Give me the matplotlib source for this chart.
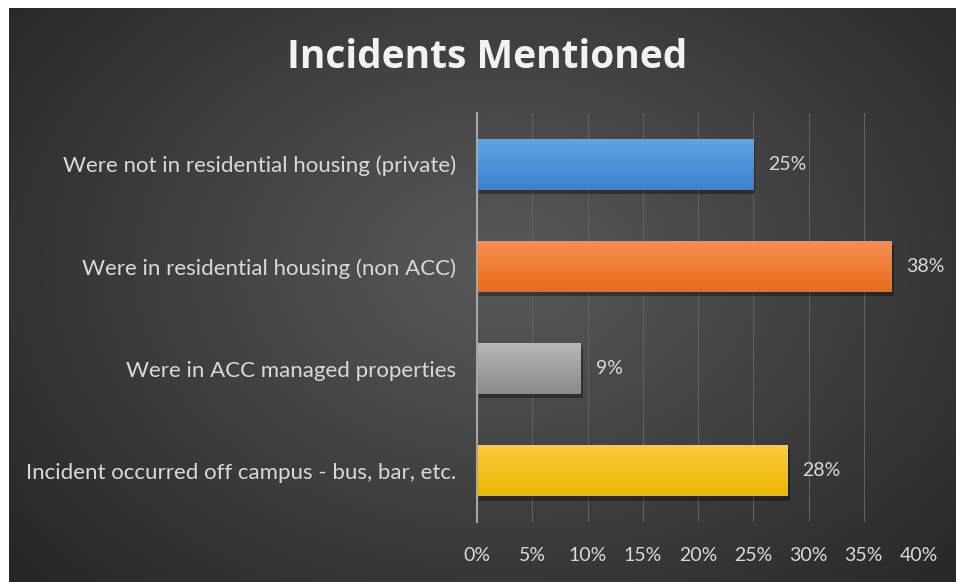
import matplotlib

matplotlib.use("Agg")

import matplotlib.pyplot as plt
import numpy as np
from matplotlib.ticker import MultipleLocator, PercentFormatter

categories = [
    "Were not in residential housing (private)",
    "Were in residential housing (non ACC)",
    "Were in ACC managed properties",
    "Incident occurred off campus - bus, bar, etc.",
]
shares = [0.25, 0.375, 0.094, 0.281]
top_colors = ["#62a5e2", "#f48f55", "#b8b8b8", "#ffca3e"]
bottom_colors = ["#3b82cf", "#e96c18", "#8a8a8a", "#e9b700"]
title = "Incidents Mentioned"

FONT = "Lato"
TEXT = "#d9d9d9"

fig = plt.figure(figsize=(9.56, 5.82), dpi=100, facecolor="white")

# dark radial background, offset by the thin white margin at left/top
bg = fig.add_axes([9 / 956, 0, 1 - 9 / 956, 1 - 8 / 582])
yy, xx = np.mgrid[0:1:300j, 0:1:500j]
r = np.sqrt(((xx - 0.52) / 0.75) ** 2 + ((yy - 0.45) / 0.9) ** 2)
shade = np.clip(0.35 - 0.22 * r, 0.13, 0.35)
bg.imshow(np.dstack([shade] * 3), aspect="auto", extent=[0, 1, 0, 1],
          interpolation="bicubic")
bg.set_axis_off()

ax = fig.add_axes([477 / 956, 1 - 522 / 582, 442 / 956, 409 / 582])
ax.patch.set_alpha(0)
ypos = np.arange(len(categories))

# drop shadows
ax.barh(ypos + 0.04, shares, height=0.5, left=0.002, color="black",
        alpha=0.35, zorder=2)
bars = ax.barh(ypos, shares, height=0.5, color=top_colors, zorder=3)

# vertical gradient fill inside each bar
for bar, c0, c1 in zip(bars, top_colors, bottom_colors):
    a = np.array(matplotlib.colors.to_rgb(c0))
    b = np.array(matplotlib.colors.to_rgb(c1))
    t = np.linspace(0, 1, 64)[:, None]
    grad = (a * (1 - t) + b * t)[:, None, :]
    x0, y0 = bar.get_x(), bar.get_y()
    w, h = bar.get_width(), bar.get_height()
    im = ax.imshow(grad, extent=[x0, x0 + w, y0 + h, y0], aspect="auto",
                   zorder=4, interpolation="bilinear")
    im.set_clip_path(bar)
ax.set_xlim(0, 0.4)
ax.set_ylim(len(categories) - 0.5, -0.5)

for y, v in zip(ypos, shares):
    ax.text(v + 0.0135, y, f"{v:.0%}", va="center", ha="left",
            color=TEXT, fontsize=14, family=FONT, zorder=5)

ax.xaxis.set_major_locator(MultipleLocator(0.05))
ax.xaxis.set_major_formatter(PercentFormatter(1.0, decimals=0))
ax.grid(axis="x", color="#606060", linewidth=0.8, zorder=1)
ax.set_axisbelow(True)
ax.set_yticks(ypos)
ax.set_yticklabels(categories)
ax.tick_params(length=0, colors=TEXT)
ax.tick_params(axis="x", pad=18, labelsize=14)
ax.tick_params(axis="y", pad=15, labelsize=16)
for lab in ax.get_xticklabels() + ax.get_yticklabels():
    lab.set_family(FONT)
for side in ["top", "right", "bottom"]:
    ax.spines[side].set_visible(False)
ax.spines["left"].set_color("#a6a6a6")
ax.spines["left"].set_linewidth(1.5)
ax.spines["left"].set_zorder(6)

fig.text(0.51, 1 - 57 / 582, title, ha="center", va="center", color="#f2f2f2",
         fontsize=28, fontweight="bold", family="Open Sans")

fig.savefig("out.png", dpi=100, facecolor=fig.get_facecolor())
